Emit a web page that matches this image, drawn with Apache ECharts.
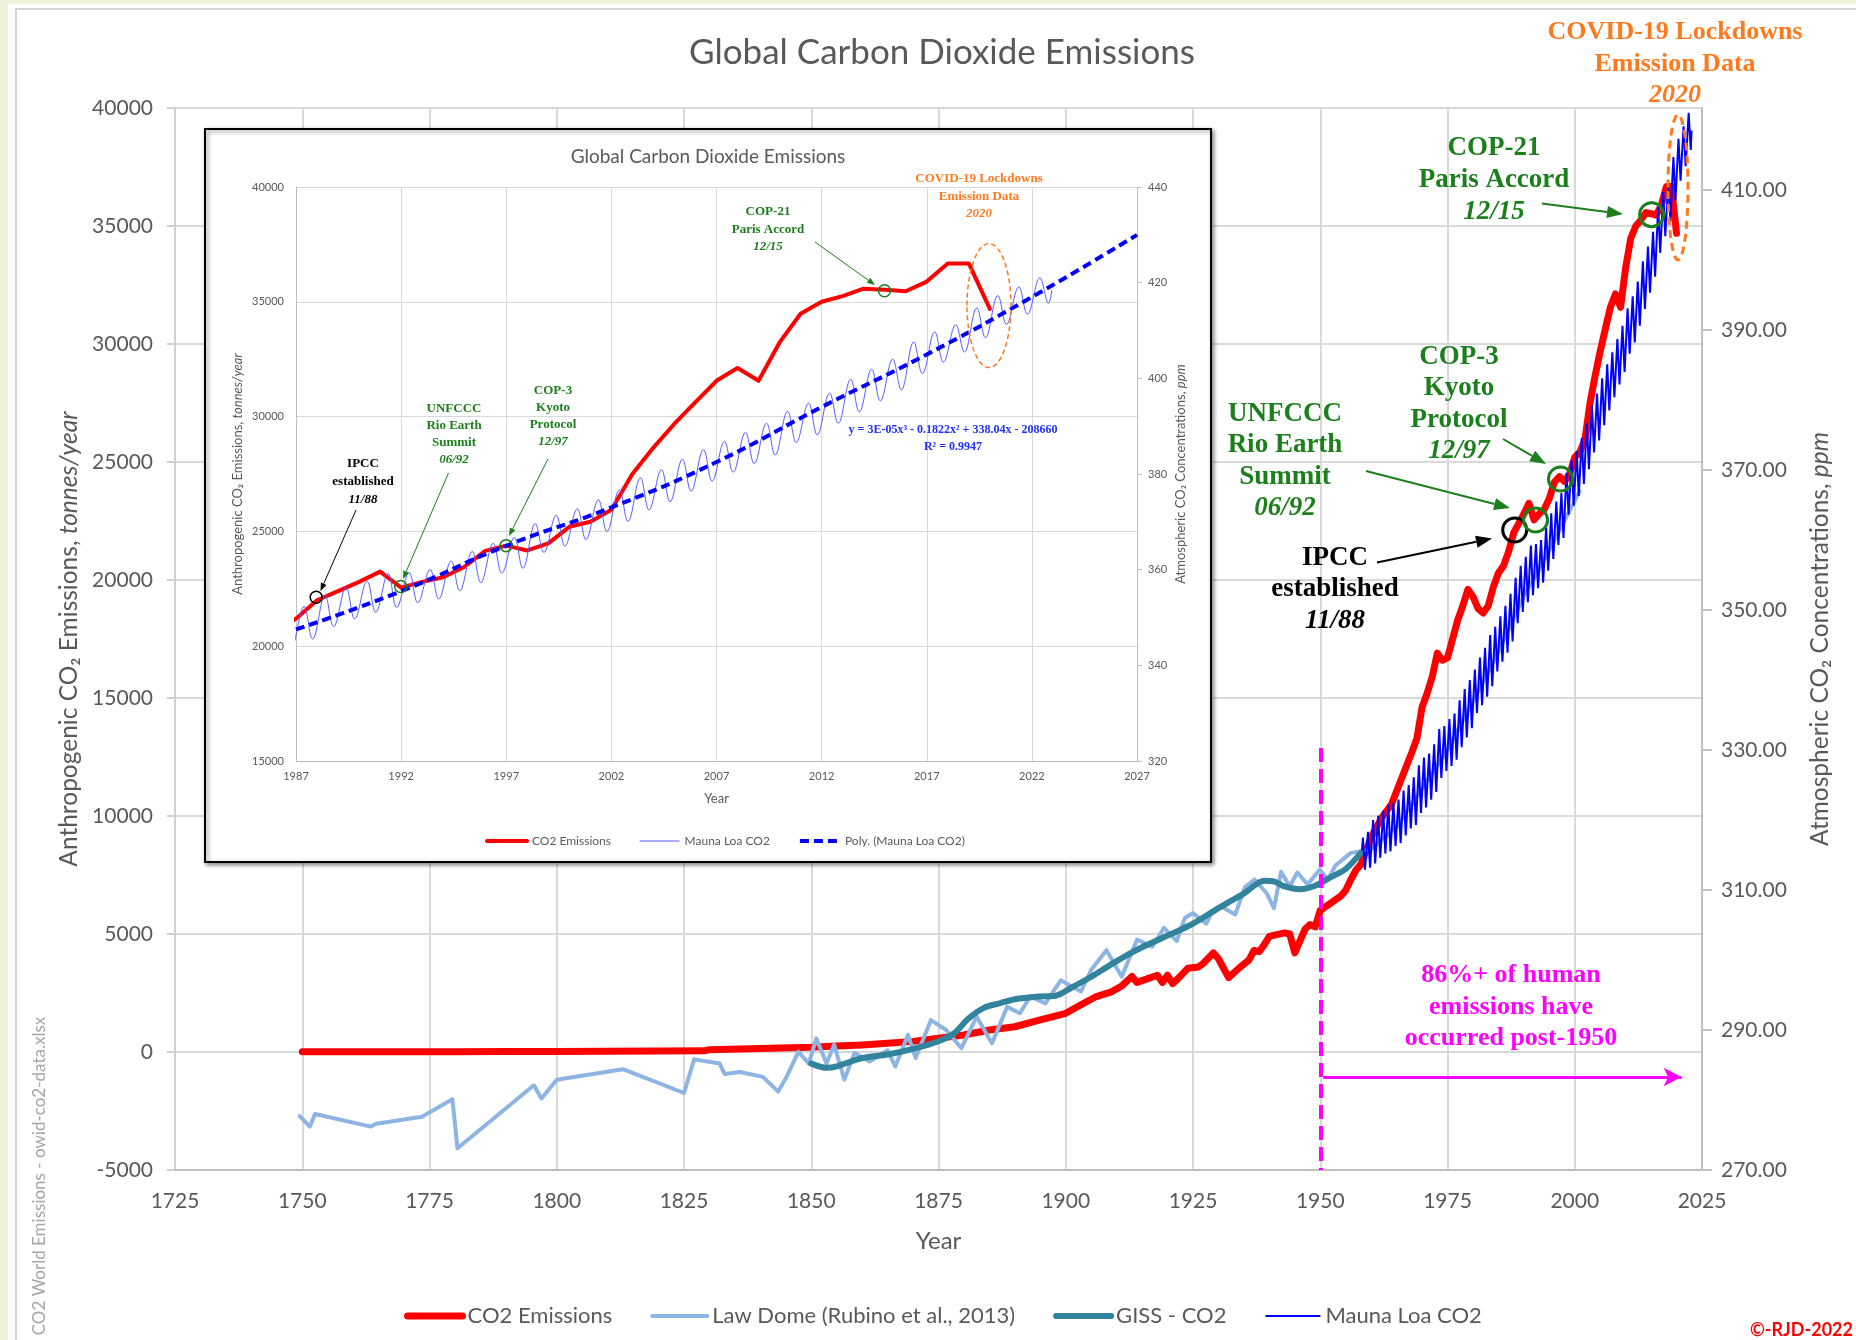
<!DOCTYPE html>
<html>
<head>
<meta charset="utf-8">
<title>Global Carbon Dioxide Emissions</title>
<script src="https://cdn.jsdelivr.net/npm/echarts@6/dist/echarts.min.js"></script>
<style>
  html, body { margin: 0; padding: 0; background: #edf1dc; }
  #chart { width: 1856px; height: 1340px; }
</style>
</head>
<body>
<div id="chart"></div>
<script>
// ---- data ----
// anthropogenic CO2 emissions (million tonnes / year)
const emisYears = [1750, 1760, 1770, 1780, 1790, 1800, 1810, 1820, 1829, 1830, 1840, 1850, 1855, 1860, 1865, 1870, 1875, 1880, 1885, 1890,
  1895, 1900, 1903, 1906, 1909, 1911, 1913, 1914, 1916, 1918, 1919, 1920, 1921, 1922, 1924, 1926, 1927, 1929, 1930, 1932,
  1934, 1936, 1937, 1938, 1939, 1940, 1941, 1943, 1944, 1945, 1946, 1947, 1948, 1949, 1950, 1952, 1954, 1955, 1956, 1957,
  1958, 1960, 1962, 1964, 1966, 1968, 1969, 1970, 1971, 1972, 1973, 1974, 1975, 1976, 1977, 1978, 1979, 1980, 1981, 1982,
  1983, 1984, 1985, 1986, 1987, 1988, 1989, 1990, 1991, 1992, 1993, 1994, 1995, 1996, 1997, 1998, 1999, 2000, 2001, 2002,
  2003, 2004, 2005, 2006, 2007, 2008, 2009, 2010, 2011, 2012, 2013, 2014, 2015, 2016, 2017, 2018, 2019, 2020];
const emisVals = [9, 10, 12, 14, 18, 25, 32, 40, 50, 100, 150, 200, 250, 300, 370, 450, 580, 720, 930, 1070,
  1360, 1640, 2000, 2350, 2550, 2800, 3200, 2950, 3100, 3250, 2950, 3250, 2900, 3100, 3550, 3600, 3750, 4200, 3950, 3150,
  3550, 3900, 4300, 4250, 4550, 4900, 4950, 5050, 5000, 4200, 4700, 5200, 5400, 5300, 6000, 6300, 6600, 6850, 7300, 7700,
  7950, 9100, 9900, 10500, 11600, 12700, 13300, 14600, 15200, 15900, 16900, 16600, 16700, 17500, 18300, 18900, 19600, 19300, 18800, 18600,
  18900, 19700, 20300, 20600, 21200, 22000, 22400, 22800, 23250, 22550, 22800, 23000, 23450, 24150, 24380, 24170, 24480, 25200, 25420, 25940,
  27500, 28650, 29690, 30630, 31560, 32120, 31560, 33230, 34480, 35000, 35250, 35570, 35520, 35460, 35880, 36670, 36670, 34690];

// Law Dome ice core CO2 (ppm)
const lawDome = [[1749.5, 277.7], [1751.5, 276.2], [1752.5, 278.0], [1763.5, 276.2], [1764.5, 276.6], [1773.5, 277.6],
  [1779.5, 280.1], [1780.5, 273.1], [1795.5, 282.1], [1797, 280.2], [1800, 282.9], [1813, 284.4], [1825, 281.0],
  [1827, 285.8], [1832, 285.2], [1833, 283.7], [1836, 284.0], [1840.5, 283.3], [1843.5, 281.2], [1845, 283.1],
  [1847.5, 286.9], [1849.5, 285.2], [1851, 288.8], [1853, 285.2], [1854.5, 287.9], [1856.5, 282.9], [1858.5, 286.7],
  [1861.5, 285.5], [1865, 287.1], [1866.5, 284.8], [1869, 289.3], [1870.5, 286.0], [1873.5, 291.4], [1876.5, 290.0],
  [1879.5, 287.4], [1882.5, 291.9], [1885.5, 288.1], [1888.5, 293.3], [1891, 292.4], [1893, 294.8], [1896, 293.8],
  [1899, 297.1], [1903, 295.5], [1905, 298.6], [1908, 301.4], [1911, 297.6], [1914, 302.9], [1917, 301.9],
  [1919.3, 304.6], [1921.8, 302.7], [1923.4, 306.0], [1925, 306.7], [1927.6, 305.2], [1928.6, 306.6], [1930.6, 307.6],
  [1933.3, 306.5], [1935.2, 310.4], [1937.1, 311.5], [1939.5, 309.5], [1940.9, 307.4], [1942.3, 312.6], [1944, 310.5],
  [1945.5, 312.5], [1947.5, 310.8], [1949.9, 312.9], [1951.5, 311.5], [1953, 313.5], [1956, 315.3], [1960, 315.8],
  [1965, 319.0], [1970, 324.5], [1975, 330.0], [1980, 337.0], [1985, 344.0], [1990, 352.0], [1995, 358.5], [2001, 367.0]];

// GISS CO2 (ppm)
const giss = [[1850, 285.2], [1853, 284.6], [1855, 284.8], [1860, 286.0], [1865, 286.5], [1870, 287.3], [1875, 288.4],
  [1878, 289.5], [1881, 291.7], [1884, 293.2], [1887, 293.8], [1890, 294.4], [1895, 294.8], [1898, 294.9], [1901, 296.0],
  [1905, 297.6], [1909, 299.4], [1913, 301.1], [1917, 302.5], [1921, 303.8], [1925, 305.2], [1930, 307.4], [1935, 309.5],
  [1939, 311.3], [1941, 311.2], [1943, 310.5], [1946, 310.1], [1949, 310.6], [1952, 311.8], [1955, 313.0], [1958, 315.3]];

// Mauna Loa CO2 (ppm): yearly spring high and autumn low
const mlYears = [];
for (let y = 1958; y <= 2022; y++) mlYears.push(y);
const mlPeak = [317.5, 318.3, 320.0, 320.6, 321.3, 322.2, 322.4, 322.9, 324.2, 325.0,
  326.1, 327.8, 328.9, 329.5, 330.8, 333.0, 333.4, 334.4, 335.2, 337.1,
  338.7, 340.0, 341.5, 343.2, 344.6, 346.4, 347.6, 349.1, 350.6, 352.3,
  354.6, 356.3, 357.6, 359.2, 359.4, 360.0, 361.8, 363.8, 365.5, 366.7,
  369.6, 371.4, 372.7, 374.6, 376.7, 379.2, 380.9, 383.1, 385.1, 386.8,
  388.7, 390.6, 393.1, 394.8, 396.9, 399.8, 401.9, 404.0, 407.6, 409.7,
  411.2, 414.7, 417.3, 419.1, 421.0];
const mlTrough = [312.9, 313.2, 313.8, 314.6, 315.2, 315.5, 316.3, 316.7, 317.8, 318.8,
  319.3, 321.0, 321.8, 322.9, 324.0, 326.0, 327.0, 327.7, 328.6, 330.4,
  331.8, 333.1, 335.3, 336.4, 337.6, 339.1, 341.2, 342.6, 343.9, 345.5,
  348.1, 349.7, 351.1, 352.1, 353.1, 353.9, 355.6, 357.3, 359.3, 360.3,
  363.6, 364.9, 366.3, 368.0, 370.1, 372.5, 374.2, 376.4, 378.5, 380.4,
  382.2, 384.0, 386.6, 388.2, 390.6, 393.0, 395.3, 397.6, 401.0, 403.4,
  405.5, 408.5, 411.3, 413.4, 415.7];
const mlStart = [1958.2, 315.7];
const mlEnd = [2022.95, 418.5];

// Poly. trend line of Mauna Loa in the inset (ppm)
const polyYears = [1987, 1992, 1997, 2002, 2007, 2012, 2017, 2022, 2027];
const polyPpm = [347.5, 355.5, 365.0, 373.0, 382.5, 394.0, 405.0, 417.0, 430.0];

// right axis tick labels of the main chart
const rightTicks = [270, 290, 310, 330, 350, 370, 390, 410];

// ---- build series data ----
const emisData = emisYears.map((y, i) => [y, emisVals[i]]);
const mlData = [mlStart];
mlYears.forEach((y, i) => {
  mlData.push([y + 0.38, mlPeak[i]]);
  mlData.push([y + 0.79, mlTrough[i]]);
});
mlData.push(mlEnd);
const polyData = polyYears.map((y, i) => [y, polyPpm[i]]);

const SANS = 'Lato, "Noto Sans", sans-serif';
const SERIF = '"Liberation Serif", "DejaVu Serif", serif';
const GRAY = '#595959';
const GREEN = '#1b7f1b';
const ORANGE = '#ff7a1f';
const MAGENTA = '#ff00ff';

// multi line bold serif label, last line(s) may be italic
function note(x, top, lines, color, size, lh) {
  const txt = lines.map(l => (l[1] ? '{i|' : '{b|') + l[0] + '}').join('\n');
  const base = { fontFamily: SERIF, fontSize: size, fontWeight: 'bold', fill: color, lineHeight: lh };
  return {
    type: 'text', x: x, y: top, z: 20,
    style: {
      text: txt, align: 'center', verticalAlign: 'top',
      rich: { b: base, i: Object.assign({}, base, { fontStyle: 'italic' }) }
    }
  };
}

function arrow(x1, y1, x2, y2, color, w, head) {
  const a = Math.atan2(y2 - y1, x2 - x1);
  const hx = x2 - head * Math.cos(a), hy = y2 - head * Math.sin(a);
  const px = Math.sin(a) * head * 0.38, py = -Math.cos(a) * head * 0.38;
  return [
    { type: 'line', z: 20, shape: { x1: x1, y1: y1, x2: hx, y2: hy }, style: { stroke: color, lineWidth: w } },
    { type: 'polygon', z: 20, shape: { points: [[x2, y2], [hx + px, hy + py], [hx - px, hy - py]] }, style: { fill: color } }
  ];
}

const els = [
  { type: 'rect', z: -10, shape: { x: 8, y: 4, width: 1848, height: 1336 }, style: { fill: '#fff' } },
  { type: 'rect', z: -9, shape: { x: 16, y: 9, width: 1850, height: 1340 }, style: { fill: 'none', stroke: '#d4d4d4', lineWidth: 2 } },
  // inset frame
  { type: 'rect', z: 1, shape: { x: 205, y: 129, width: 1006, height: 733 },
    style: { fill: '#fff', stroke: '#000', lineWidth: 2, shadowBlur: 4, shadowOffsetX: 2, shadowOffsetY: 2, shadowColor: 'rgba(0,0,0,0.45)' } },
  // titles
  { type: 'text', x: 942, y: 53, z: 20, style: { text: 'Global Carbon Dioxide Emissions', fill: GRAY, fontSize: 35, fontFamily: SANS, align: 'center', verticalAlign: 'middle' } },
  { type: 'text', x: 708, y: 157, z: 20, style: { text: 'Global Carbon Dioxide Emissions', fill: GRAY, fontSize: 19, fontFamily: SANS, align: 'center', verticalAlign: 'middle' } },
  { type: 'text', x: 40, y: 1176, rotation: Math.PI / 2, z: 20, style: { text: 'CO2 World Emissions - owid-co2-data.xlsx', fill: '#a6a6a6', fontSize: 17, fontFamily: SANS, align: 'center', verticalAlign: 'middle' } },
  { type: 'text', x: 1853, y: 1330, z: 20, style: { text: '©-RJD-2022', fill: '#ff0000', fontSize: 18, fontWeight: 'bold', fontFamily: SANS, align: 'right', verticalAlign: 'middle' } },

  // main annotations
  note(1675, 17, [['COVID-19 Lockdowns'], ['Emission Data'], ['2020', 1]], ORANGE, 26, 31.5),
  note(1494, 132, [['COP-21'], ['Paris Accord'], ['12/15', 1]], GREEN, 27, 32),
  note(1459, 341, [['COP-3'], ['Kyoto'], ['Protocol'], ['12/97', 1]], GREEN, 27, 31.5),
  note(1285, 398, [['UNFCCC'], ['Rio Earth'], ['Summit'], ['06/92', 1]], GREEN, 27, 31.5),
  note(1335, 542, [['IPCC'], ['established'], ['11/88', 1]], '#000', 27, 31.5),
  note(1511, 960, [['86%+ of human'], ['emissions have'], ['occurred post-1950']], MAGENTA, 26, 31.5),
  { type: 'ellipse', z: 20, shape: { cx: 1678, cy: 187.5, rx: 10, ry: 72.5 }, style: { fill: 'none', stroke: ORANGE, lineWidth: 3, lineDash: [8, 5] } },

  // inset annotations
  note(979, 170, [['COVID-19 Lockdowns'], ['Emission Data'], ['2020', 1]], ORANGE, 13, 17.5),
  note(768, 203, [['COP-21'], ['Paris Accord'], ['12/15', 1]], GREEN, 13, 17.5),
  note(553, 382, [['COP-3'], ['Kyoto'], ['Protocol'], ['12/97', 1]], GREEN, 13, 17),
  note(454, 400, [['UNFCCC'], ['Rio Earth'], ['Summit'], ['06/92', 1]], GREEN, 13, 17),
  note(363, 455, [['IPCC'], ['established'], ['11/88', 1]], '#000', 13, 18),
  note(953, 421, [['y = 3E-05x³ - 0.1822x² + 338.04x - 208660'], ['R² = 0.9947']], '#1f2fff', 12, 17),
  { type: 'ellipse', z: 20, shape: { cx: 989, cy: 305.6, rx: 22, ry: 62 }, style: { fill: 'none', stroke: ORANGE, lineWidth: 1.5, lineDash: [5, 3] } }
];
[
  [1542, 203.5, 1623, 214, GREEN, 2, 16],
  [1503, 439, 1546, 464, GREEN, 2, 16],
  [1366, 471, 1510, 508, GREEN, 2, 16],
  [1377, 562.5, 1492, 538.5, '#000', 2, 16],
  [815, 242, 875, 285, GREEN, 1, 8],
  [548, 459, 509, 536, GREEN, 1, 8],
  [448.5, 473, 403, 579, GREEN, 1, 8],
  [356, 510, 320.5, 591, '#000', 1, 8]
].forEach(a => els.push(...arrow(...a)));

function circle(coord, color, size, bw) {
  return { coord: coord, symbolSize: size, itemStyle: { color: 'rgba(0,0,0,0)', borderColor: color, borderWidth: bw } };
}

const axisLineGray = { show: true, onZero: false, lineStyle: { color: '#bfbfbf', width: 2 } };
const richName = (size) => ({
  n: { fontSize: size, color: GRAY, fontFamily: SANS },
  i: { fontSize: size, color: GRAY, fontFamily: SANS, fontStyle: 'italic' }
});

const option = {
  backgroundColor: '#edf1dc',
  animation: false,
  textStyle: { fontFamily: SANS },
  grid: [
    { left: 175, top: 108, width: 1527, height: 1062 },
    { left: 296, top: 187, width: 841, height: 574 }
  ],
  xAxis: [
    {
      gridIndex: 0, type: 'value', min: 1725, max: 2025, interval: 25,
      axisLine: axisLineGray, axisTick: { show: false },
      axisLabel: { color: GRAY, fontSize: 21, margin: 21, formatter: v => String(v) },
      splitLine: { show: true, lineStyle: { color: '#d9d9d9', width: 2 } },
      name: 'Year', nameLocation: 'middle', nameGap: 59,
      nameTextStyle: { color: GRAY, fontSize: 24 }
    },
    {
      gridIndex: 1, type: 'value', min: 1987, max: 2027, interval: 5, z: 3,
      axisLine: { show: true, onZero: false, lineStyle: { color: '#bfbfbf', width: 1 } }, axisTick: { show: false },
      axisLabel: { color: GRAY, fontSize: 11, margin: 10, formatter: v => String(v) },
      splitLine: { show: true, lineStyle: { color: '#d9d9d9', width: 1 } },
      name: 'Year', nameLocation: 'middle', nameGap: 31,
      nameTextStyle: { color: GRAY, fontSize: 13 }
    }
  ],
  yAxis: [
    {
      gridIndex: 0, type: 'value', position: 'left', min: -5000, max: 40000, interval: 5000,
      axisLine: { show: true, onZero: false, lineStyle: { color: '#d0d0d0', width: 2 } },
      axisTick: { show: true, length: 8, lineStyle: { color: '#d0d0d0', width: 2 } },
      axisLabel: { color: GRAY, fontSize: 21, margin: 22, formatter: v => String(v) },
      splitLine: { show: true, lineStyle: { color: '#d9d9d9', width: 2 } },
      name: '{n|Anthropogenic CO₂ Emissions, }{i|tonnes/year}', nameLocation: 'middle', nameRotate: 90, nameGap: 92,
      nameTextStyle: { rich: richName(24.5) }
    },
    {
      gridIndex: 0, type: 'value', position: 'right', min: 270, max: 421.7, interval: 20,
      axisLine: { show: true, onZero: false, lineStyle: { color: '#bfbfbf', width: 2 } },
      axisTick: { show: true, length: 10, customValues: rightTicks, lineStyle: { color: '#bfbfbf', width: 2 } },
      axisLabel: { color: GRAY, fontSize: 21, margin: 19, customValues: rightTicks, formatter: v => v.toFixed(2) },
      splitLine: { show: false },
      name: '{n|Atmospheric CO₂ Concentrations, }{i|ppm}', nameLocation: 'middle', nameRotate: 90, nameGap: 106,
      nameTextStyle: { rich: richName(24.5) }
    },
    {
      gridIndex: 1, type: 'value', position: 'left', min: 15000, max: 40000, interval: 5000, z: 3,
      axisLine: { show: true, onZero: false, lineStyle: { color: '#bfbfbf', width: 1 } },
      axisTick: { show: false },
      axisLabel: { color: GRAY, fontSize: 11, margin: 12, formatter: v => String(v) },
      splitLine: { show: true, lineStyle: { color: '#d9d9d9', width: 1 } },
      name: '{n|Anthropogenic CO₂ Emissions, }{i|tonnes/year}', nameLocation: 'middle', nameRotate: 90, nameGap: 52,
      nameTextStyle: { rich: richName(13) }
    },
    {
      gridIndex: 1, type: 'value', position: 'right', min: 320, max: 440, interval: 20, z: 3,
      axisLine: { show: true, onZero: false, lineStyle: { color: '#bfbfbf', width: 1 } },
      axisTick: { show: true, length: 5, lineStyle: { color: '#bfbfbf' } },
      axisLabel: { color: GRAY, fontSize: 11, margin: 11 },
      splitLine: { show: false },
      name: '{n|Atmospheric CO₂ Concentrations, }{i|ppm}', nameLocation: 'middle', nameRotate: 90, nameGap: 37,
      nameTextStyle: { rich: richName(13) }
    }
  ],
  legend: [
    {
      data: ['CO2 Emissions', 'Law Dome (Rubino et al., 2013)', 'GISS - CO2', 'Mauna Loa CO2'],
      left: 399, top: 1300, itemWidth: 55, itemHeight: 12, itemGap: 38, selectedMode: false,
      lineStyle: { width: 'inherit' }, itemStyle: { opacity: 0 },
      textStyle: { color: GRAY, fontSize: 22, fontFamily: SANS }
    },
    {
      data: ['CO2 Emissions ', 'Mauna Loa CO2 ', 'Poly. (Mauna Loa CO2)'],
      left: 480, top: 830, itemWidth: 40, itemHeight: 8, itemGap: 25, selectedMode: false, z: 10,
      lineStyle: { width: 'inherit' }, itemStyle: { opacity: 0 },
      textStyle: { color: GRAY, fontSize: 12, fontFamily: SANS }
    }
  ],
  graphic: { elements: els },
  series: [
    {
      name: 'CO2 Emissions', type: 'line', xAxisIndex: 0, yAxisIndex: 0, z: 2,
      data: emisData, symbol: 'none',
      lineStyle: { color: '#ff0000', width: 7, cap: 'round', join: 'round' }, itemStyle: { color: '#ff0000' },
      markPoint: {
        z: 10, symbol: 'circle', label: { show: false }, silent: true,
        data: [
          circle([1988.2, 22120], '#000', 24, 3),
          circle([1992.3, 22540], GREEN, 24, 3),
          circle([1997.2, 24280], GREEN, 24, 3),
          circle([2015.1, 35480], GREEN, 24, 3)
        ]
      },
      markLine: {
        z: 10, silent: true, symbol: 'none', label: { show: false },
        data: [
          [{ coord: [1950, 12880], lineStyle: { color: MAGENTA, width: 4, type: [14, 7] } }, { coord: [1950, -5000] }],
          [{ coord: [1950.6, -1060], lineStyle: { color: MAGENTA, width: 3, type: 'solid' } }, { coord: [2021, -1060], symbol: 'arrow', symbolSize: [14, 18] }]
        ]
      }
    },
    {
      name: 'Law Dome (Rubino et al., 2013)', type: 'line', xAxisIndex: 0, yAxisIndex: 1, z: 3,
      data: lawDome, symbol: 'none',
      lineStyle: { color: '#8db4e2', width: 4, cap: 'round', join: 'round' }, itemStyle: { color: '#8db4e2' }
    },
    {
      name: 'GISS - CO2', type: 'line', xAxisIndex: 0, yAxisIndex: 1, z: 4,
      data: giss, symbol: 'none', smooth: 0.3,
      lineStyle: { color: '#31849b', width: 6, cap: 'round', join: 'round' }, itemStyle: { color: '#31849b' }
    },
    {
      name: 'Mauna Loa CO2', type: 'line', xAxisIndex: 0, yAxisIndex: 1, z: 5,
      data: mlData, symbol: 'none',
      lineStyle: { color: '#0000ff', width: 2 }, itemStyle: { color: '#0000ff' }
    },
    {
      name: 'CO2 Emissions ', type: 'line', xAxisIndex: 1, yAxisIndex: 2, z: 6,
      data: emisData, symbol: 'none',
      lineStyle: { color: '#ff0000', width: 4, cap: 'round', join: 'round' }, itemStyle: { color: '#ff0000' },
      markPoint: {
        z: 12, symbol: 'circle', label: { show: false }, silent: true,
        data: [
          circle([1987.96, 22130], '#000', 12, 1.5),
          circle([1991.98, 22600], GREEN, 12, 1.5),
          circle([1996.99, 24380], GREEN, 12, 1.5),
          circle([2014.99, 35480], GREEN, 12, 1.5)
        ]
      }
    },
    {
      name: 'Mauna Loa CO2 ', type: 'line', xAxisIndex: 1, yAxisIndex: 3, z: 7,
      data: mlData, symbol: 'none', smooth: 0.4,
      lineStyle: { color: '#5a5aff', width: 1 }, itemStyle: { color: '#5a5aff' }
    },
    {
      name: 'Poly. (Mauna Loa CO2)', type: 'line', xAxisIndex: 1, yAxisIndex: 3, z: 8,
      data: polyData, symbol: 'none', smooth: true,
      lineStyle: { color: '#0000ff', width: 4, type: [9, 5] }, itemStyle: { color: '#0000ff' }
    }
  ]
};

const chart = echarts.init(document.getElementById('chart'));
chart.setOption(option);
</script>
</body>
</html>
